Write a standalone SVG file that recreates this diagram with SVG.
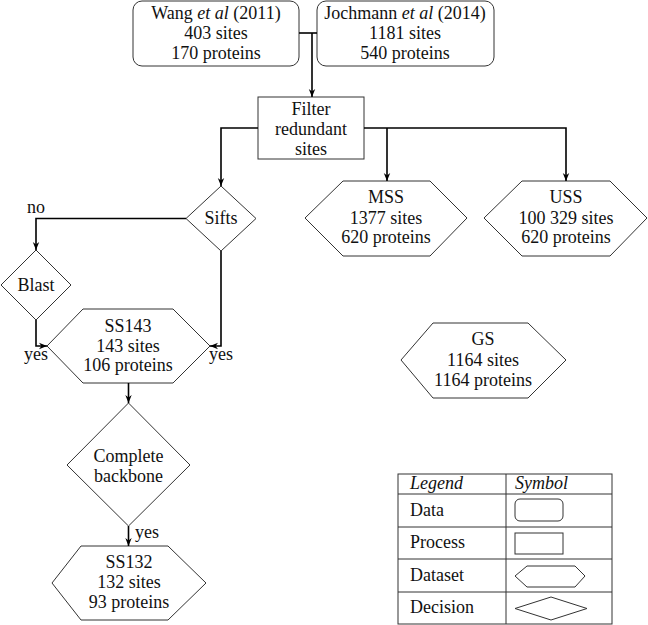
<svg xmlns="http://www.w3.org/2000/svg" width="648" height="625" viewBox="0 0 648 625">
<style>
text{font-family:"Liberation Serif", serif;font-size:18px;fill:#111;text-anchor:middle}
.shape{fill:#fff;stroke:#333;stroke-width:1}
.conn path{fill:none;stroke:#000;stroke-width:1.6}
.arrow{marker-end:url(#arr)}
.it{font-style:italic}
.lt{text-anchor:start}
.tbl{fill:none;stroke:#333;stroke-width:1}
</style>
<defs>
<marker id="arr" viewBox="0 0 10 10" refX="10" refY="5" markerWidth="8" markerHeight="8" markerUnits="userSpaceOnUse" orient="auto">
<path d="M0,1 L10,5 L0,9 L3,5 z" fill="#000"/>
</marker>
</defs>
<rect width="648" height="625" fill="#fff"/>

<g id="wang">
<rect class="shape" x="133" y="1" width="166" height="65" rx="9"/>
<text x="216" y="19">Wang <tspan class="it">et al</tspan> (2011)</text>
<text x="216" y="39">403 sites</text>
<text x="216" y="59">170 proteins</text>
</g>
<g id="jochmann">
<rect class="shape" x="317" y="1" width="177" height="65" rx="9"/>
<text x="405" y="19">Jochmann <tspan class="it">et al</tspan> (2014)</text>
<text x="405" y="39">1181 sites</text>
<text x="405" y="59">540 proteins</text>
</g>
<g id="filter">
<rect class="shape" x="258" y="97" width="106" height="62"/>
<text x="311" y="115">Filter</text>
<text x="311" y="135">redundant</text>
<text x="311" y="155">sites</text>
</g>
<g id="sifts">
<polygon class="shape" points="221,186 256,218.5 221,251 186,218.5"/>
<text x="221" y="224">Sifts</text>
</g>
<g id="mss">
<polygon class="shape" points="305,218 343,181 430,181 467,218 430,256 343,256"/>
<text x="386" y="203">MSS</text>
<text x="386" y="224">1377 sites</text>
<text x="386" y="243">620 proteins</text>
</g>
<g id="uss">
<polygon class="shape" points="484,218 522,181 610,181 647,218 610,256 522,256"/>
<text x="566" y="203">USS</text>
<text x="566" y="224">100 329 sites</text>
<text x="566" y="243">620 proteins</text>
</g>
<g id="blast">
<polygon class="shape" points="36,250 71,285 36,320 1,285"/>
<text x="36" y="291">Blast</text>
</g>
<g id="ss143">
<polygon class="shape" points="47,346 83,309 173,309 210,346 173,383 83,383"/>
<text x="128" y="332">SS143</text>
<text x="128" y="352">143 sites</text>
<text x="128" y="371">106 proteins</text>
</g>
<g id="gs">
<polygon class="shape" points="401,360 433,323 528,323 566,360 528,398 433,398"/>
<text x="483" y="345">GS</text>
<text x="483" y="366">1164 sites</text>
<text x="483" y="386">1164 proteins</text>
</g>
<g id="complete">
<polygon class="shape" points="128.5,403 190,465 128.5,526 67,465"/>
<text x="128.5" y="462">Complete</text>
<text x="128.5" y="482">backbone</text>
</g>
<g id="ss132">
<polygon class="shape" points="52,583 81,546 168,546 206,583 168,620 81,620"/>
<text x="129" y="568">SS132</text>
<text x="129" y="588">132 sites</text>
<text x="129" y="608">93 proteins</text>
</g>

<g class="conn" id="connectors">
<path d="M299,33 H317"/>
<path class="arrow" d="M312,33 V97"/>
<path class="arrow" d="M258,128 H221 V186"/>
<path class="arrow" d="M364,128 H566 V181"/>
<path class="arrow" d="M387,128 V181"/>
<path class="arrow" d="M186,218.5 H36 V250"/>
<path class="arrow" d="M36,320 V346 H47"/>
<path class="arrow" d="M221,251 V346 H210"/>
<path class="arrow" d="M128.5,383 V403"/>
<path class="arrow" d="M128.5,526 V546"/>
</g>
<g id="labels">
<text x="36" y="213">no</text>
<text x="36" y="360">yes</text>
<text x="221" y="360">yes</text>
<text x="147" y="538">yes</text>
</g>

<g id="legend">
<rect class="tbl" x="398" y="474" width="214" height="150"/>
<path class="tbl" d="M506,474 V624 M398,494 H612 M398,527 H612 M398,559 H612 M398,592 H612"/>
<text class="it lt" x="410" y="489">Legend</text>
<text class="it lt" x="515" y="489">Symbol</text>
<text class="lt" x="410" y="516">Data</text>
<text class="lt" x="410" y="548">Process</text>
<text class="lt" x="410" y="581">Dataset</text>
<text class="lt" x="410" y="613">Decision</text>
<rect class="shape" x="515" y="499" width="48" height="22" rx="5"/>
<rect class="shape" x="515" y="533" width="48" height="21"/>
<polygon class="shape" points="515,576 527,566 575,566 585,576 575,587 527,587"/>
<polygon class="shape" points="515,608.5 551,597 587,608.5 551,620"/>
</g>
</svg>
